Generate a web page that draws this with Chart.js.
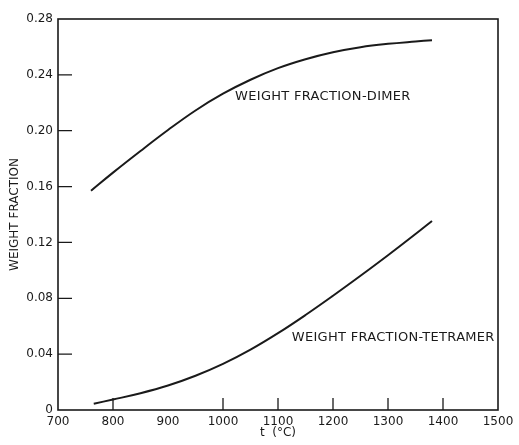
<!DOCTYPE html>
<html>
<head>
<meta charset="utf-8">
<script src="https://cdn.jsdelivr.net/npm/chart.js@4.4.0/dist/chart.umd.min.js"></script>
<style>
  html, body { margin: 0; padding: 0; background: #ffffff; }
  #wrap { width: 519px; height: 445px; }
</style>
</head>
<body>
<div id="wrap"><canvas id="c" width="519" height="445"></canvas></div>
<script>
// Temperatures (°C) and weight fractions
const dimerT = [760, 800, 850, 900, 950, 1000, 1050, 1100, 1150, 1200, 1250, 1300, 1350, 1380];
const dimerW = [0.157, 0.170, 0.1855, 0.2005, 0.2145, 0.2265, 0.2365, 0.2448, 0.2512, 0.2562, 0.2598, 0.2622, 0.2639, 0.2648];
const tetraT = [765, 800, 850, 900, 950, 1000, 1050, 1100, 1150, 1200, 1250, 1300, 1350, 1380];
const tetraW = [0.0045, 0.0075, 0.012, 0.0175, 0.0245, 0.033, 0.0432, 0.055, 0.068, 0.0818, 0.0961, 0.1108, 0.126, 0.1354];
const seriesNames = ["WEIGHT FRACTION-DIMER", "WEIGHT FRACTION-TETRAMER"];
const labelAnchorT = [1022, 1125];
const labelAnchorW = [0.2241, 0.0516];
const xTickMarks = [800, 1000, 1100, 1200, 1300, 1400];
const yTickMarks = [0.04, 0.08, 0.12, 0.16, 0.20, 0.24];
const xTitle = "t  (°C)";
const yTitle = "WEIGHT FRACTION";

const ink = "#1a1a1a";
const toXY = (xs, ys) => xs.map((x, i) => ({ x: x, y: ys[i] }));

const framePlugin = {
  id: "frame",
  afterDraw(chart) {
    const { ctx, chartArea: a, scales } = chart;
    ctx.save();
    ctx.strokeStyle = ink;
    ctx.lineWidth = 1.6;
    ctx.strokeRect(a.left, a.top, a.right - a.left, a.bottom - a.top);
    ctx.lineWidth = 1.3;
    ctx.beginPath();
    yTickMarks.forEach(v => {
      const y = scales.y.getPixelForValue(v);
      ctx.moveTo(a.left, y); ctx.lineTo(a.left + 14, y);
    });
    xTickMarks.forEach(v => {
      const x = scales.x.getPixelForValue(v);
      ctx.moveTo(x, a.bottom); ctx.lineTo(x, a.bottom - 12);
    });
    ctx.stroke();
    ctx.fillStyle = ink;
    ctx.font = "13px 'DejaVu Sans'";
    ctx.textAlign = "left";
    ctx.textBaseline = "middle";
    if ("letterSpacing" in ctx) ctx.letterSpacing = "0.3px";
    seriesNames.forEach((name, i) => {
      ctx.fillText(name, scales.x.getPixelForValue(labelAnchorT[i]), scales.y.getPixelForValue(labelAnchorW[i]));
    });
    ctx.restore();
  }
};

new Chart(document.getElementById("c"), {
  type: "line",
  data: {
    datasets: [
      { label: seriesNames[0], data: toXY(dimerT, dimerW), borderColor: ink, borderWidth: 2, pointRadius: 0, tension: 0.4, fill: false },
      { label: seriesNames[1], data: toXY(tetraT, tetraW), borderColor: ink, borderWidth: 2, pointRadius: 0, tension: 0.4, fill: false }
    ]
  },
  options: {
    responsive: false,
    animation: false,
    layout: { padding: { left: 0, top: 19, right: 21, bottom: 0 } },
    plugins: { legend: { display: false }, tooltip: { enabled: false } },
    scales: {
      x: {
        type: "linear", min: 700, max: 1500,
        grid: { display: false, drawTicks: false },
        border: { display: false },
        ticks: { stepSize: 100, color: ink, font: { family: "DejaVu Sans", size: 12 }, padding: 5, maxRotation: 0, autoSkip: false,
          callback: v => String(v) },
        title: { display: true, text: xTitle, color: ink, font: { family: "DejaVu Sans", size: 12 }, padding: { top: 0, bottom: 5 } },
        afterFit(s) { s.height = 35; }
      },
      y: {
        type: "linear", min: 0, max: 0.28,
        grid: { display: false, drawTicks: false },
        border: { display: false },
        ticks: { stepSize: 0.04, color: ink, font: { family: "DejaVu Sans", size: 12 }, padding: 5,
          callback: v => (Math.abs(v) < 1e-9 ? "0" : v.toFixed(2)) },
        title: { display: true, text: yTitle, color: ink, font: { family: "DejaVu Sans", size: 12 }, padding: { top: 8, bottom: 0 } },
        afterFit(s) { s.width = 58; }
      }
    }
  },
  plugins: [framePlugin]
});
</script>
</body>
</html>
